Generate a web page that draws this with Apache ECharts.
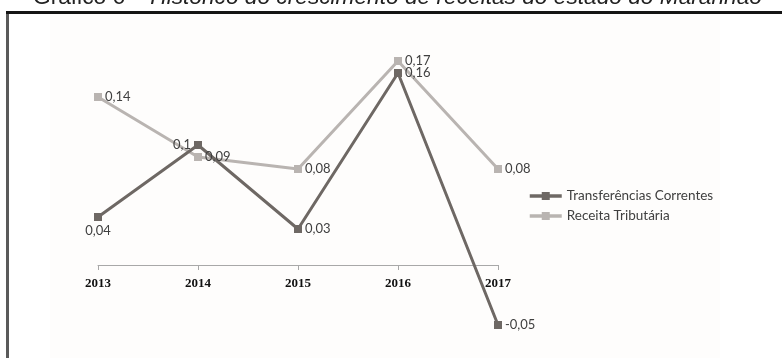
<!DOCTYPE html>
<html>
<head>
<meta charset="utf-8">
<script src="https://cdn.jsdelivr.net/npm/echarts@6/dist/echarts.min.js"></script>
<style>
  html, body { margin: 0; padding: 0; background: #ffffff; }
  #chart { width: 782px; height: 358px; }
</style>
</head>
<body>
<div id="chart"></div>
<script>
// Anos e taxas de crescimento das receitas
const anos = ['2013', '2014', '2015', '2016', '2017'];
const transferenciasCorrentes = [0.04, 0.1, 0.03, 0.16, -0.05];
const receitaTributaria = [0.14, 0.09, 0.08, 0.17, 0.08];
// posição do rótulo de cada ponto da série de transferências
const posRotuloTransf = ['bottom', 'left', 'right', 'right', 'right'];

const corTransf = '#6e6864';
const corReceita = '#b9b4b1';
const fonteRotulo = 'Lato, "Open Sans", sans-serif';

// faixa do eixo vertical (oculto) e altura da área de plotagem
const yMin = -0.07, yMax = 0.18;
const gridTop = 49, gridHeight = 300;
// o eixo das categorias fica sobre o valor zero, com rótulos logo abaixo
const offsetEixoX = -gridHeight * (0 - yMin) / (yMax - yMin);

function fmt(v) { return String(v).replace('.', ','); }

const chart = echarts.init(document.getElementById('chart'), null, { renderer: 'canvas' });

chart.setOption({
  backgroundColor: '#ffffff',
  animation: false,
  graphic: {
    elements: [
      { type: 'rect', z: -10, shape: { x: 50, y: 14, width: 670, height: 344 }, style: { fill: '#fefdfc' } },
      { type: 'rect', shape: { x: 6, y: 11, width: 776, height: 3 }, style: { fill: '#151515' } },
      { type: 'rect', shape: { x: 6, y: 14, width: 3, height: 344 }, style: { fill: '#5a5a5a' } },
      {
        type: 'text', x: 33, y: -14,
        style: {
          text: '{a|Gráfico 6 – }{b|Histórico do crescimento de receitas do estado do Maranhão}',
          rich: {
            a: { fontFamily: '"Liberation Sans", Arial, sans-serif', fontSize: 22.7, lineHeight: 23, fill: '#222' },
            b: { fontFamily: '"Liberation Sans", Arial, sans-serif', fontSize: 22.7, lineHeight: 23, fontStyle: 'italic', fill: '#222' }
          }
        }
      }
    ]
  },
  grid: {
    left: 98, right: 284, top: gridTop, height: gridHeight,
    containLabel: false, outerBoundsMode: 'none'
  },
  legend: {
    left: 523, top: 184, orient: 'vertical', itemGap: 6,
    itemWidth: 32, itemHeight: 10,
    data: ['Transferências Correntes', 'Receita Tributária'],
    lineStyle: { width: 3.5 },
    textStyle: { fontFamily: fonteRotulo, fontSize: 13.5, color: '#404040' }
  },
  xAxis: {
    type: 'category', data: anos, boundaryGap: false,
    offset: offsetEixoX,
    axisLine: { onZero: false, lineStyle: { color: '#a8a8a8', width: 1 } },
    axisTick: { show: true, length: 5, inside: false, lineStyle: { color: '#a8a8a8' } },
    axisLabel: {
      margin: 12, color: '#111',
      fontFamily: '"Liberation Serif", "Times New Roman", serif',
      fontWeight: 'bold', fontSize: 13
    },
    splitLine: { show: false }
  },
  yAxis: {
    type: 'value', min: yMin, max: yMax, show: false,
    splitLine: { show: false }
  },
  series: [
    {
      name: 'Receita Tributária', type: 'line', data: receitaTributaria,
      symbol: 'rect', symbolSize: 8,
      lineStyle: { color: corReceita, width: 3 },
      itemStyle: { color: corReceita },
      label: {
        show: true, position: 'right', distance: 3,
        formatter: p => fmt(p.value),
        fontFamily: fonteRotulo, fontSize: 13, color: '#404040'
      }
    },
    {
      name: 'Transferências Correntes', type: 'line',
      data: transferenciasCorrentes.map((v, i) => ({
        value: v,
        label: { position: posRotuloTransf[i] }
      })),
      symbol: 'rect', symbolSize: 8,
      lineStyle: { color: corTransf, width: 3 },
      itemStyle: { color: corTransf },
      label: {
        show: true, position: 'right', distance: 3,
        formatter: p => fmt(p.value),
        fontFamily: fonteRotulo, fontSize: 13, color: '#404040'
      }
    }
  ]
});
</script>
</body>
</html>
